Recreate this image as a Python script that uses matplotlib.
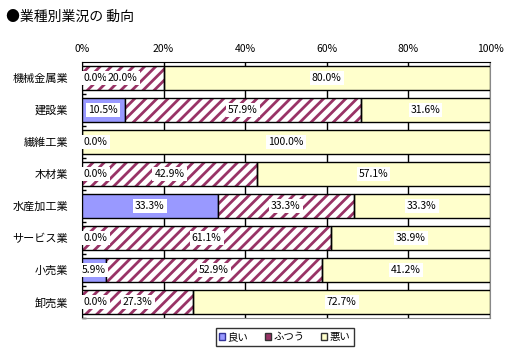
import numpy as np
import matplotlib.pyplot as plt
from matplotlib.patches import Patch

plt.rcParams['font.family'] = ['Noto Sans CJK JP', 'DejaVu Sans']
plt.rcParams['hatch.linewidth'] = 2.0

categories = ['機械金属業', '建設業', '繊維工業', '木材業', '水産加工業', 'サービス業', '小売業', '卸売業']
good = [0.0, 10.5, 0.0, 0.0, 33.3, 0.0, 5.9, 0.0]
normal = [20.0, 57.9, 0.0, 42.9, 33.3, 61.1, 52.9, 27.3]
bad = [80.0, 31.6, 100.0, 57.1, 33.3, 38.9, 41.2, 72.7]
series_names = ['良い', 'ふつう', '悪い']

fig = plt.figure(figsize=(5.12, 3.58), dpi=100)
ax = fig.add_axes([0.160, 0.112, 0.797, 0.715])

y = np.arange(len(categories))
good = np.array(good)
normal = np.array(normal)
bad = np.array(bad)
h = 0.76

ax.barh(y, good, height=h, color='#9999FF', edgecolor='black', linewidth=1, zorder=3)
ax.barh(y, normal, left=good, height=h, color='white', edgecolor='#993366',
        hatch='///', linewidth=0, zorder=3)
ax.barh(y, normal, left=good, height=h, color='none', edgecolor='black', linewidth=1, zorder=4)
ax.barh(y, bad, left=good + normal, height=h, color='#FFFFCC', edgecolor='black',
        linewidth=1, zorder=3)

box = dict(facecolor='white', edgecolor='none', pad=1.5)
for i in range(len(categories)):
    starts = [0, good[i], good[i] + normal[i]]
    vals = [good[i], normal[i], bad[i]]
    for j, (s, v) in enumerate(zip(starts, vals)):
        if v == 0:
            if j == 0:
                ax.text(0.4, i, f'{v:.1f}%', ha='left', va='center', fontsize=7.5,
                        bbox=box, zorder=6)
            continue
        ax.text(s + v / 2, i, f'{v:.1f}%', ha='center', va='center', fontsize=7.5,
                bbox=box, zorder=6)

ax.set_xlim(0, 100)
ax.set_ylim(len(categories) - 0.5, -0.5)
ax.set_xticks(np.arange(0, 101, 20))
ax.set_xticklabels([f'{t}%' for t in range(0, 101, 20)], fontsize=7.5)
ax.xaxis.tick_top()
ax.tick_params(axis='x', length=0, pad=6)
ax.set_yticks(y)
ax.set_yticklabels(categories, fontsize=8)
ax.tick_params(axis='y', which='major', length=0, pad=10)
ax.set_yticks(np.arange(len(categories)) + 0.5, minor=True)
ax.tick_params(axis='y', which='minor', direction='in', length=3, width=1)
ax.grid(axis='x', color='black', linewidth=1, zorder=1)
for sp in ['right', 'bottom']:
    ax.spines[sp].set_color('#888888')
ax.spines['top'].set_color('black')
ax.spines['left'].set_color('black')

fig.text(0.012, 0.952, '●業種別業況の 動向', fontsize=10, va='center')

handles = [Patch(facecolor='#9999FF', edgecolor='#333399', linewidth=1),
           Patch(facecolor='#993366', edgecolor='#333333', linewidth=1),
           Patch(facecolor='#FFFFCC', edgecolor='#333333', linewidth=1)]
leg = fig.legend(handles, series_names, loc='center', bbox_to_anchor=(0.556, 0.059),
                 ncol=3, fontsize=7.5, frameon=True, fancybox=False, handlelength=0.6,
                 handleheight=0.6, handletextpad=0.2, columnspacing=1.6, borderpad=0.35)
leg.get_frame().set_edgecolor('black')

fig.savefig('out.png', dpi=100)
